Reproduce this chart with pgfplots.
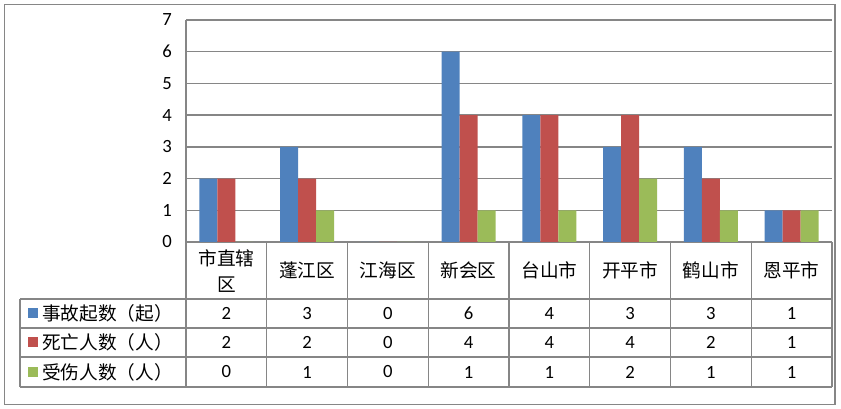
\documentclass[border=0pt]{standalone}
\usepackage{pgfplots}
\pgfplotsset{compat=1.18}
\usepackage{pgfplotstable}
\usepackage{fontspec}
\setmainfont{Carlito}
\newfontfamily\cjk{Noto Sans CJK SC}
\definecolor{gridgray}{HTML}{868686}
\definecolor{sblue}{HTML}{4F81BD}
\definecolor{sred}{HTML}{C0504D}
\definecolor{sgreen}{HTML}{9BBB59}
\pgfplotstableread{
x a b c
0 2 2 0
1 3 2 1
2 0 0 0
3 6 4 1
4 4 4 1
5 3 4 2
6 3 2 1
7 1 1 1
}\datatable
\begin{document}
\begin{tikzpicture}
\fontsize{14}{16}\selectfont
\useasboundingbox (0,0) rectangle (630.75pt,306.75pt);
\begin{scope}[x=0.75pt,y=0.75pt]
\draw[gridgray, line width=1.1pt] (4.5,4.5) rectangle (835,404.5);
% table lines
\draw[gridgray, line width=1.1pt] (20,110) -- (832,110);
\draw[gridgray, line width=1.1pt] (20,81) -- (832,81);
\draw[gridgray, line width=1.1pt] (20,52) -- (832,52);
\draw[gridgray, line width=1.1pt] (20,22) -- (832,22);
\draw[gridgray, line width=1.1pt] (20,110) -- (20,22);
\foreach \i in {0,...,8} {
  \draw[gridgray, line width=1.1pt] ({186+80.75*\i},167) -- ({186+80.75*\i},22);
}
% header
\node[align=center, font=\cjk\fontsize{14}{19.5}\selectfont] at ({186+80.75*0.5},138) {市直辖\\区};
\foreach \n [count=\i from 1] in {蓬江区,江海区,新会区,台山市,开平市,鹤山市,恩平市} {
  \node[font=\cjk] at ({186+80.75*(\i+0.5)},139) {\n};
}
% legend column
\fill[sblue] (28,90.5) rectangle (38,100.5);
\fill[sred] (28,61.5) rectangle (38,71.5);
\fill[sgreen] (28,32) rectangle (38,42);
\node[anchor=west, inner sep=0pt, font=\cjk] at (42,95.5) {事故起数（起）};
\node[anchor=west, inner sep=0pt, font=\cjk] at (42,66.5) {死亡人数（人）};
\node[anchor=west, inner sep=0pt, font=\cjk] at (42,37) {受伤人数（人）};
% values
\foreach \v [count=\i from 0] in {2,3,0,6,4,3,3,1} {
  \node at ({186+80.75*(\i+0.5)},95.5) {\v};
}
\foreach \v [count=\i from 0] in {2,2,0,4,4,4,2,1} {
  \node at ({186+80.75*(\i+0.5)},66.5) {\v};
}
\foreach \v [count=\i from 0] in {0,1,0,1,1,2,1,1} {
  \node at ({186+80.75*(\i+0.5)},37) {\v};
}
\end{scope}
\begin{axis}[
  at={(139.5pt,125.25pt)}, anchor=south west,
  scale only axis, width=484.5pt, height=166.5pt,
  xmin=-0.5, xmax=7.5, ymin=0, ymax=7,
  ytick={0,...,7}, xtick=\empty,
  ymajorgrids, grid style={gridgray, line width=1.1pt},
  axis y line*=left, axis x line*=bottom,
  x axis line style={draw=none},
  y axis line style={gridgray, line width=1.1pt},
  major tick length=0pt,
  /pgf/number format/assume math mode=true,
  yticklabel style={anchor=east, inner sep=0pt, xshift=-10.5pt, font=\fontsize{14}{16}\selectfont},
  ybar=0pt, bar width=13.5pt,
  clip=false,
]
\addplot[fill=sblue, draw=none] table[x=x, y=a] {\datatable};
\addplot[fill=sred, draw=none] table[x=x, y=b] {\datatable};
\addplot[fill=sgreen, draw=none] table[x=x, y=c] {\datatable};
\end{axis}
\end{tikzpicture}
\end{document}
